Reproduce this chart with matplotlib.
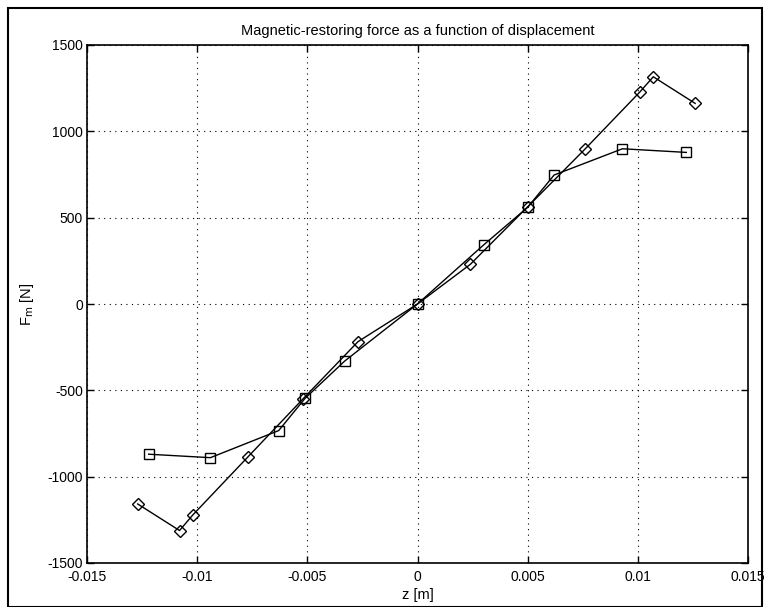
import matplotlib
matplotlib.use("Agg")
import matplotlib.pyplot as plt
from matplotlib.patches import Rectangle

# Data
z_square = [-0.0122, -0.0094, -0.0063, -0.0051, -0.0033, 0.0, 0.0030, 0.0050, 0.0062, 0.0093, 0.0122]
F_square = [-870, -890, -733, -546, -330, 0, 342, 560, 747, 899, 878]

z_diamond = [-0.0127, -0.0108, -0.0102, -0.0077, -0.0052, -0.0027, 0.0, 0.0024, 0.0050, 0.0076, 0.0101, 0.0107, 0.0126]
F_diamond = [-1158, -1312, -1222, -886, -550, -218, 0, 230, 563, 897, 1229, 1316, 1162]

x_ticks = [-0.015, -0.01, -0.005, 0, 0.005, 0.01, 0.015]
x_ticklabels = ["-0.015", "-0.01", "-0.005", "0", "0.005", "0.01", "0.015"]
y_ticks = [-1500, -1000, -500, 0, 500, 1000, 1500]
y_ticklabels = ["-1500", "-1000", "-500", "0", "500", "1000", "1500"]

plt.rcParams['font.family'] = ['Liberation Sans', 'DejaVu Sans']
plt.rcParams['axes.unicode_minus'] = False

fig = plt.figure(figsize=(7.64, 6.07), dpi=100)
ax = fig.add_axes([87/764, 1 - 563/607, (748-87)/764, (563-45)/607])

ax.plot(z_square, F_square, color='black', lw=1.0, marker='s', ms=7,
        mfc='none', mec='black', mew=1.0)
ax.plot(z_diamond, F_diamond, color='black', lw=1.0, marker='D', ms=6.5,
        mfc='none', mec='black', mew=1.0)

ax.set_xlim(-0.015, 0.015)
ax.set_ylim(-1500, 1500)
ax.set_xticks(x_ticks)
ax.set_xticklabels(x_ticklabels)
ax.set_yticks(y_ticks)
ax.set_yticklabels(y_ticklabels)
ax.grid(True, color='black', linestyle=(0, (1, 4)), linewidth=0.8)
ax.tick_params(direction='in', length=5, top=True, right=True, labelsize=10, width=1)
ax.tick_params(axis='x', pad=5)
ax.tick_params(axis='y', pad=3)
for s in ax.spines.values():
    s.set_linewidth(1.2)

ax.set_title("Magnetic-restoring force as a function of displacement", fontsize=10.5, pad=7)
ax.set_xlabel("z [m]", fontsize=10.5, labelpad=3)
ax.set_ylabel(r"F$_{\rm m}$ [N]", fontsize=10.5, labelpad=8)

# outer frame of the figure
fig.patches.append(Rectangle((8/764, 0), (762-8)/764, 1 - 8/607, transform=fig.transFigure,
                             fill=False, edgecolor='black', linewidth=1.5))

fig.savefig("out.png", dpi=100)
